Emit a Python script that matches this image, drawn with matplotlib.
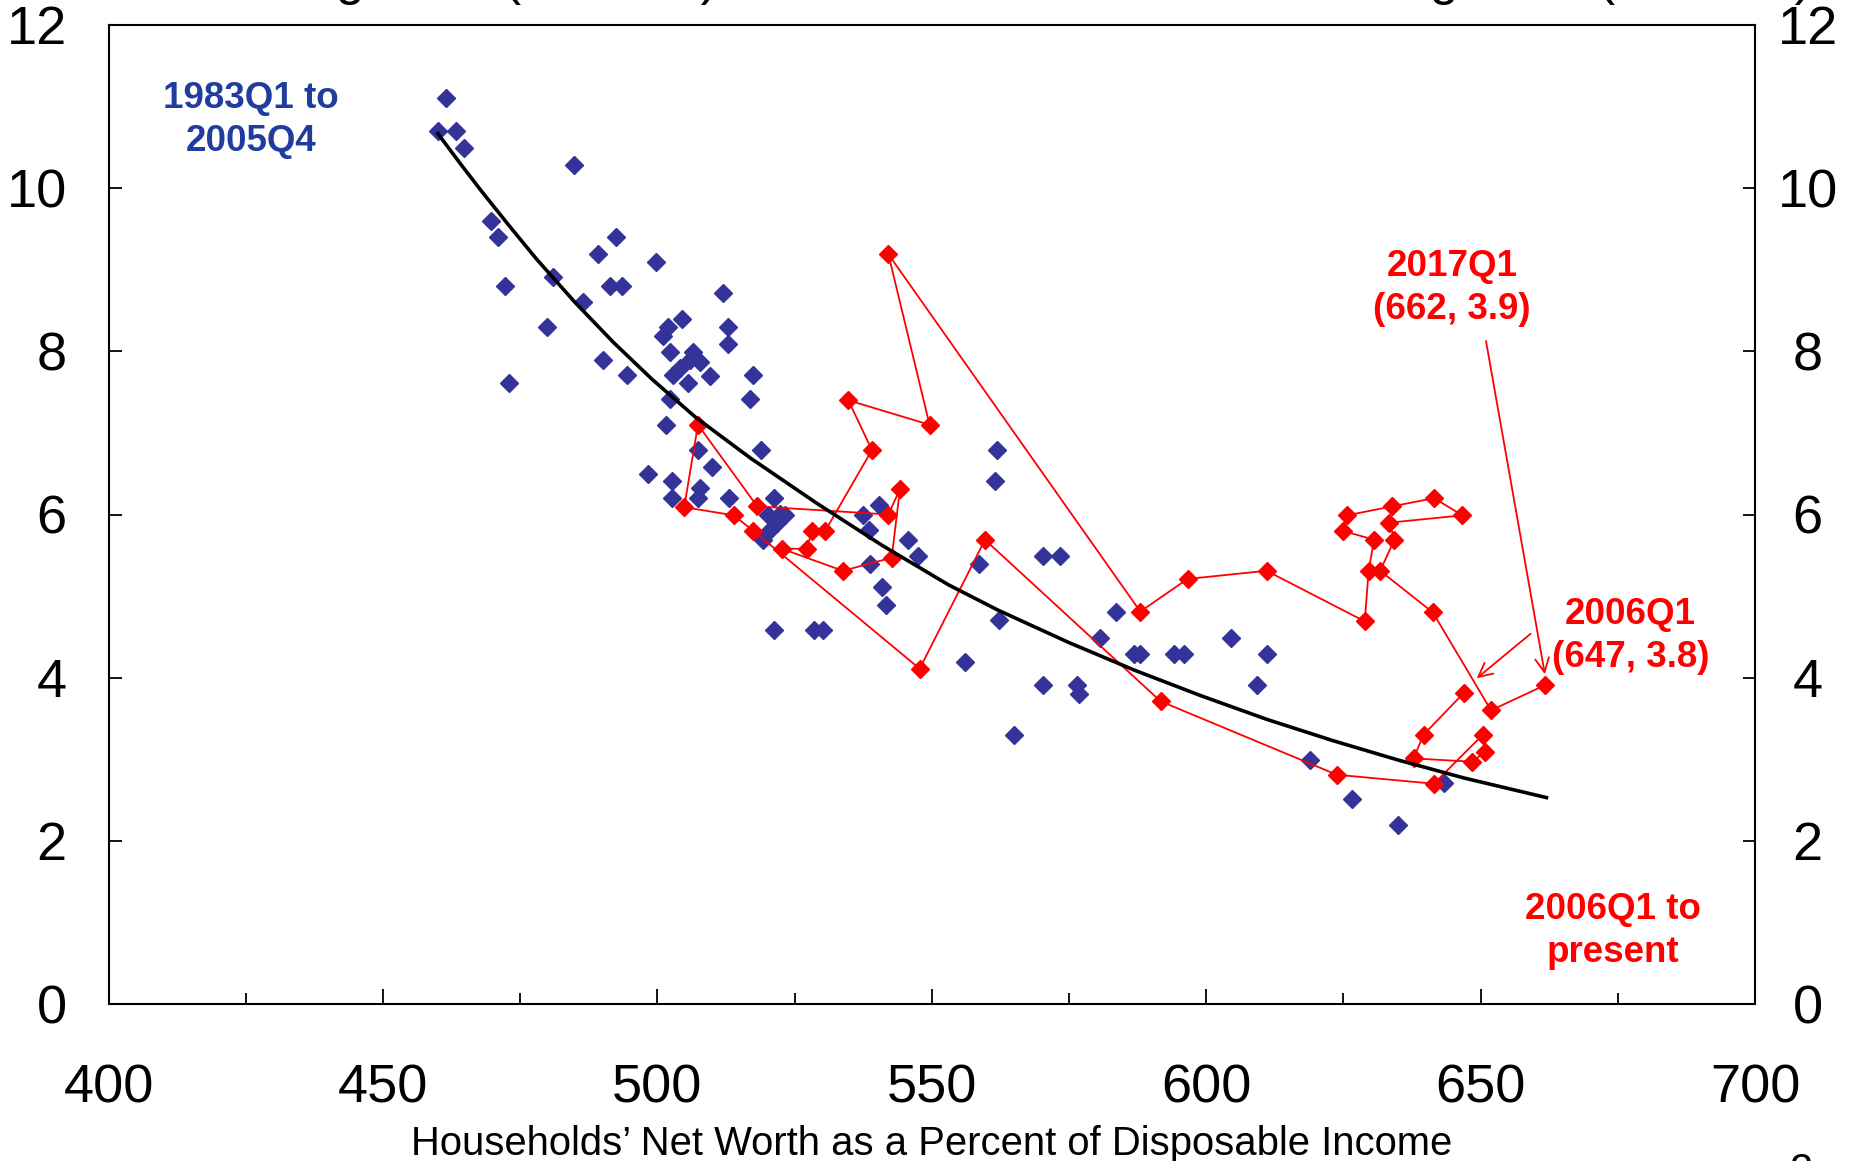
import numpy as np
import matplotlib
matplotlib.use("Agg")
from matplotlib import pyplot as plt

plt.rcParams['font.family'] = ['Liberation Sans', 'DejaVu Sans']

# 1983Q1 - 2005Q4 (azul)
azul_x = [461.5, 460.0, 463.3, 464.7, 484.9, 469.7, 470.9, 472.3, 473.0, 480.9, 479.9, 486.5,
          489.2, 492.5, 491.4, 493.6, 490.1, 494.4, 499.7, 512.0, 504.5, 502.0, 501.0, 512.8,
          512.8, 502.3, 506.5, 504.2, 506.0, 507.8, 509.6, 505.6, 502.9, 517.5, 516.8, 502.3,
          501.6, 507.4, 518.9, 509.9, 498.3, 502.6, 507.7, 502.6, 507.4, 513.1, 521.2, 520.2,
          522.4, 523.3, 521.8, 520.6, 519.3, 537.4, 540.3, 538.6, 545.6, 547.5, 538.8, 541.0,
          541.7, 521.2, 528.6, 530.2, 556.1, 558.6, 561.9, 561.6, 562.2, 570.3, 573.4, 583.6,
          580.7, 586.8, 587.9, 594.1, 595.9, 604.6, 611.1, 609.3, 570.3, 576.5, 576.8, 564.9,
          619.0, 626.6, 635.0, 643.4]
azul_y = [11.10, 10.70, 10.70, 10.49, 10.28, 9.60, 9.40, 8.80, 7.61, 8.91, 8.30, 8.61,
          9.19, 9.40, 8.80, 8.80, 7.89, 7.71, 9.09, 8.71, 8.40, 8.30, 8.19, 8.30,
          8.09, 7.99, 7.99, 7.79, 7.89, 7.87, 7.70, 7.61, 7.71, 7.71, 7.42, 7.42,
          7.10, 6.79, 6.79, 6.58, 6.50, 6.41, 6.32, 6.20, 6.20, 6.20, 6.20, 5.99,
          6.01, 6.00, 5.89, 5.81, 5.69, 6.00, 6.12, 5.81, 5.69, 5.49, 5.39, 5.11,
          4.89, 4.59, 4.59, 4.59, 4.19, 5.39, 6.79, 6.41, 4.71, 5.49, 5.49, 4.80,
          4.49, 4.29, 4.29, 4.29, 4.29, 4.49, 4.29, 3.91, 3.91, 3.91, 3.80, 3.30,
          2.99, 2.51, 2.19, 2.71]

# 2006Q1 - 2017Q1 (rojo, en orden)
rojo_x = [646.9, 639.6, 637.8, 648.5, 650.8, 650.4, 641.5, 623.8, 591.7, 559.7, 547.8, 517.5,
          513.9, 504.9, 507.4, 518.2, 542.1, 544.2, 542.7, 533.8, 522.7, 527.2, 528.2, 530.6,
          539.1, 534.8, 549.6, 542.1, 588.0, 596.6, 611.0, 628.9, 629.6, 630.6, 624.9, 625.7,
          633.9, 641.5, 646.7, 633.4, 634.3, 631.7, 641.3, 651.9, 661.8]
rojo_y = [3.81, 3.30, 3.01, 2.97, 3.09, 3.30, 2.70, 2.81, 3.71, 5.69, 4.11, 5.80,
          5.99, 6.09, 7.10, 6.10, 6.00, 6.31, 5.47, 5.31, 5.58, 5.58, 5.80, 5.80,
          6.79, 7.40, 7.10, 9.19, 4.81, 5.21, 5.31, 4.69, 5.31, 5.69, 5.80, 5.99,
          6.10, 6.20, 5.99, 5.90, 5.69, 5.31, 4.80, 3.60, 3.91]

# curva de ajuste
ajuste_x = [460, 464, 468, 473, 478, 485, 492, 499, 507, 517, 529, 541, 553, 562,
            575, 587, 599, 611, 623, 635, 647, 662]
ajuste_y = [10.67, 10.31, 9.96, 9.54, 9.13, 8.60, 8.11, 7.66, 7.19, 6.69, 6.14, 5.62,
            5.14, 4.83, 4.43, 4.09, 3.78, 3.49, 3.23, 2.99, 2.77, 2.53]

y_ticks = [0, 2, 4, 6, 8, 10, 12]

azul = '#333399'
rojo = '#ff0000'

fig = plt.figure(figsize=(18.55, 11.61), dpi=100)
ax = fig.add_axes([108.5/1855, 1-1004/1161, (1755-108.5)/1855, (1004-25)/1161])

ax.plot(azul_x, azul_y, 'D', color=azul, ms=9.5, mec=azul, zorder=2)
ax.plot(rojo_x, rojo_y, '-D', color=rojo, lw=1.3, ms=9.5, zorder=3)
ax.plot(ajuste_x, ajuste_y, color='black', lw=2.6, zorder=4)

ax.set_xlim(400, 700)
ax.set_ylim(0, 12)
ax.set_xticks(np.arange(400, 701, 50))
ax.set_xticks(np.arange(425, 700, 50), minor=True)
ax.set_yticks(y_ticks)
ax.tick_params(axis='x', which='major', direction='in', length=11, width=1.3,
               labelsize=39, pad=43, top=False)
ax.tick_params(axis='x', which='minor', direction='in', length=8, width=1.3, top=False)
ax.tick_params(axis='y', direction='in', length=9, width=1.3, labelsize=39, pad=30,
               right=False)
for s in ax.spines.values():
    s.set_linewidth(1.5)

# eje derecho (mismas marcas, etiquetas centradas)
ax2 = ax.twinx()
ax2.set_ylim(0, 12)
ax2.set_yticks(y_ticks)
ax2.tick_params(axis='y', direction='in', length=9, width=1.3, labelsize=39, pad=38)
for t in ax2.get_yticklabels():
    t.set_horizontalalignment('center')
for s in ax2.spines.values():
    s.set_visible(False)

ax.set_xlabel('Households\u2019 Net Worth as a Percent of Disposable Income',
              fontsize=28.8, labelpad=8)

# textos
ax.text(426.0, 10.835, '1983Q1 to\n2005Q4', color='#1f3c9e', fontsize=26.5,
        fontweight='bold', ha='center', va='center', linespacing=1.3)
ax.text(644.8, 8.78, '2017Q1\n(662, 3.9)', color=rojo, fontsize=26.5,
        fontweight='bold', ha='center', va='center', linespacing=1.3)
ax.text(677.3, 4.51, '2006Q1\n(647, 3.8)', color=rojo, fontsize=26.5,
        fontweight='bold', ha='center', va='center', linespacing=1.3)
ax.text(674.1, 0.895, '2006Q1 to\npresent', color=rojo, fontsize=26.5,
        fontweight='bold', ha='center', va='center', linespacing=1.3)

ax.annotate('', xy=(661.8, 4.01), xytext=(650.9, 8.16),
            arrowprops=dict(arrowstyle='->', color=rojo, lw=1.3, mutation_scale=25))
ax.annotate('', xy=(648.9, 3.97), xytext=(659.5, 4.56),
            arrowprops=dict(arrowstyle='->', color=rojo, lw=1.3, mutation_scale=25))

# titulos cortados arriba y numero de pagina
fig.text(718/1855, 1 + 6/1161, 'Personal Saving Rate (Percent)', fontsize=37.5,
         ha='right', va='baseline')
fig.text(1812/1855, 1 + 6/1161, 'Personal Saving Rate (Percent)', fontsize=37.5,
         ha='right', va='baseline')
fig.text(1802/1855, -22/1161, '2', fontsize=30, ha='center', va='baseline')

fig.savefig('out.png', dpi=100)
